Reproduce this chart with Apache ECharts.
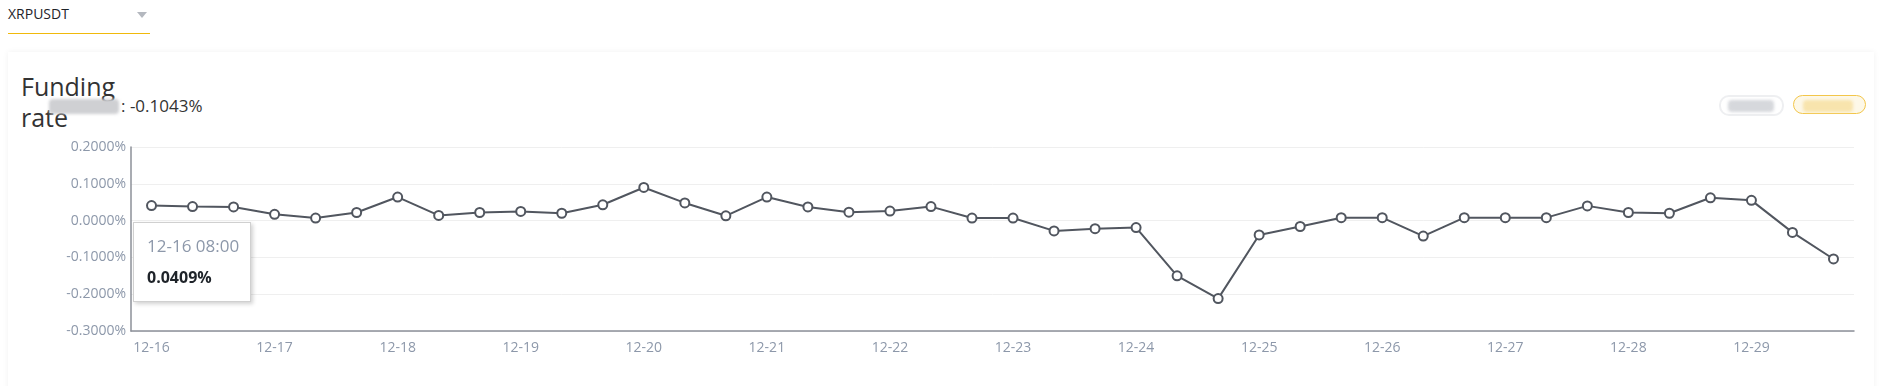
<!DOCTYPE html>
<html>
<head>
<meta charset="utf-8">
<script src="https://cdn.jsdelivr.net/npm/echarts@6/dist/echarts.min.js"></script>
<style>
  html, body { margin: 0; padding: 0; background: #fff; width: 1881px; height: 386px; overflow: hidden; font-family: 'Open Sans', 'Noto Sans', sans-serif; }
  .select { position: absolute; left: 8px; top: 0; width: 142px; height: 33px; border-bottom: 1.5px solid #f0b90b; }
  .select span { position: absolute; left: 0; top: 4px; font-size: 14px; color: #1e2329; }
  .select i { position: absolute; left: 129px; top: 12px; width: 0; height: 0; border-left: 5px solid transparent; border-right: 5px solid transparent; border-top: 6px solid #b4b8bf; }
  .card { position: absolute; left: 8px; top: 52px; width: 1866px; height: 360px; background: #fff; box-shadow: 0 0 6px rgba(0,0,0,0.06); }
  .title { position: absolute; left: 21px; top: 71px; font-size: 25px; line-height: 31px; color: #333; }
  .blur { position: absolute; filter: blur(1.5px); border-radius: 4px; }
  .sub { position: absolute; left: 121px; top: 94px; font-size: 17px; color: #333; }
  .pill { position: absolute; top: 95px; height: 17px; border-radius: 10px; }
  #chart { position: absolute; left: 0; top: 0; width: 1881px; height: 386px; }
</style>
</head>
<body>
<div class="select"><span>XRPUSDT</span><i></i></div>
<div class="card"></div>
<div class="title">Funding<br>rate</div>
<div class="blur" style="left:49px;top:99px;width:70px;height:15px;background:#cfd0d3;"></div>
<div class="sub">: -0.1043%</div>
<div class="pill" style="left:1719px;width:61px;border:2px solid #eeeff1;"></div>
<div class="blur" style="left:1728px;top:100px;width:46px;height:12px;background:#d6d8dc;"></div>
<div class="pill" style="left:1793px;width:71px;border:1.5px solid #f3c64a;background:#fdf8e8;"></div>
<div class="blur" style="left:1803px;top:100px;width:50px;height:12px;background:#f8e4ad;"></div>
<div id="chart"></div>
<script>
// eixo x: horários de funding (a cada 8h)
const times = [
    '12-16 08:00', '12-16 16:00', '12-17 00:00', '12-17 08:00', '12-17 16:00', '12-18 00:00',
    '12-18 08:00', '12-18 16:00', '12-19 00:00', '12-19 08:00', '12-19 16:00', '12-20 00:00',
    '12-20 08:00', '12-20 16:00', '12-21 00:00', '12-21 08:00', '12-21 16:00', '12-22 00:00',
    '12-22 08:00', '12-22 16:00', '12-23 00:00', '12-23 08:00', '12-23 16:00', '12-24 00:00',
    '12-24 08:00', '12-24 16:00', '12-25 00:00', '12-25 08:00', '12-25 16:00', '12-26 00:00',
    '12-26 08:00', '12-26 16:00', '12-27 00:00', '12-27 08:00', '12-27 16:00', '12-28 00:00',
    '12-28 08:00', '12-28 16:00', '12-29 00:00', '12-29 08:00', '12-29 16:00', '12-30 00:00'
];

// taxa de funding em %
const rates = [
    0.0409, 0.038, 0.037, 0.017, 0.007, 0.022,
    0.064, 0.014, 0.022, 0.025, 0.020, 0.043,
    0.090, 0.048, 0.013, 0.064, 0.037, 0.023,
    0.026, 0.038, 0.007, 0.007, -0.028, -0.022,
    -0.019, -0.150, -0.212, -0.039, -0.016, 0.008,
    0.008, -0.042, 0.008, 0.008, 0.008, 0.040,
    0.022, 0.020, 0.062, 0.055, -0.032, -0.1043
];

const yMin = -0.3, yMax = 0.2, yStep = 0.1;

const chartDom = document.getElementById('chart');
const myChart = echarts.init(chartDom);

const labelColor = '#8d98aa';

const option = {
    animation: false,
    grid: { left: 131, right: 27, top: 147, bottom: 55 },
    tooltip: {
        trigger: 'item',
        alwaysShowContent: true,
        position: [133, 222],
        backgroundColor: '#fff',
        borderColor: '#d0d0d0',
        borderWidth: 1,
        padding: 0,
        extraCssText: 'box-shadow: 2px 2px 4px rgba(0,0,0,0.18); border-radius: 0; width: 118px; height: 80px; box-sizing: border-box;',
        formatter: function (p) {
            return '<div style="padding:12px 0 0 13px;font-family:Open Sans">' +
                   '<div style="font-size:17px;color:#8d98aa;line-height:22px">' + times[p.dataIndex] + '</div>' +
                   '<div style="font-size:16px;color:#1e2329;font-weight:bold;margin-top:9px;line-height:22px">' + rates[p.dataIndex].toFixed(4) + '%</div>' +
                   '</div>';
        }
    },
    xAxis: {
        type: 'category',
        data: times,
        boundaryGap: true,
        axisLine: { onZero: false, lineStyle: { color: '#8c9099', width: 1.5 } },
        axisTick: { show: false },
        axisLabel: {
            interval: 2,
            color: labelColor,
            fontSize: 14,
            margin: 10,
            fontFamily: 'Open Sans',
            formatter: function (v) { return v.slice(0, 5); }
        }
    },
    yAxis: {
        type: 'value',
        min: yMin,
        max: yMax,
        interval: yStep,
        axisLine: { show: true, lineStyle: { color: '#8c9099', width: 1.5 } },
        axisTick: { show: false },
        splitLine: { lineStyle: { color: '#efefef', width: 1 } },
        axisLabel: {
            color: labelColor,
            fontSize: 14,
            margin: 5,
            fontFamily: 'Open Sans',
            formatter: function (v) { return v.toFixed(4) + '%'; }
        }
    },
    series: [{
        type: 'line',
        data: rates,
        symbol: 'emptyCircle',
        symbolSize: 9,
        lineStyle: { color: '#51565f', width: 2 },
        itemStyle: { color: '#51565f', borderWidth: 1.5 },
        emphasis: { disabled: true }
    }]
};

myChart.setOption(option);
myChart.dispatchAction({ type: 'showTip', seriesIndex: 0, dataIndex: 0 });
</script>
</body>
</html>
